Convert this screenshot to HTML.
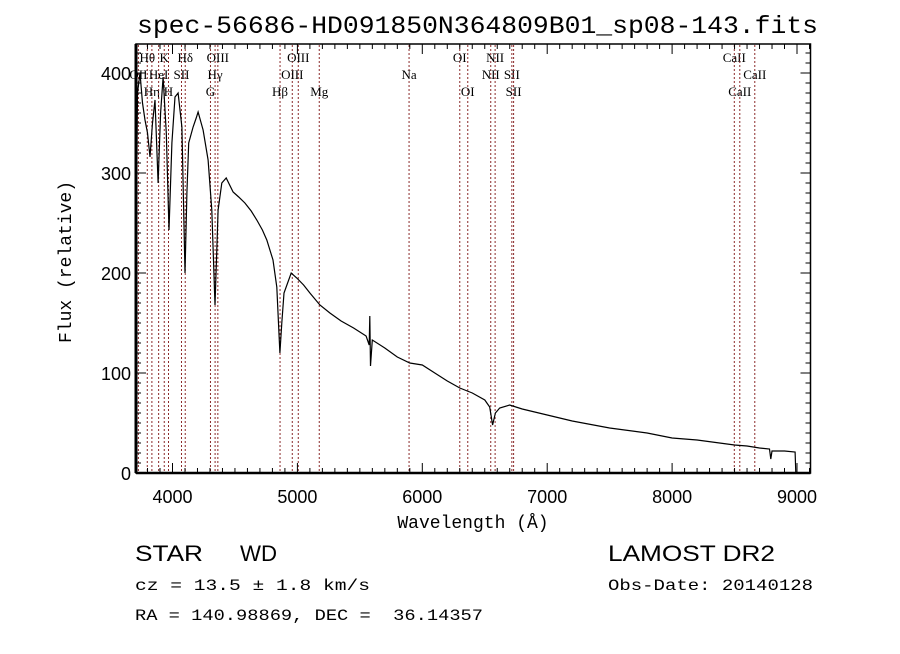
<!DOCTYPE html>
<html><head><meta charset="utf-8"><style>
body{margin:0;background:#fff;width:900px;height:649px;overflow:hidden}
svg text{fill:#000}
</style></head><body>
<svg id="chart" width="900" height="649" xmlns="http://www.w3.org/2000/svg">
<rect width="900" height="649" fill="#fff"/>
<text x="137" y="33" font-family="Liberation Mono, monospace" font-size="25" textLength="681" lengthAdjust="spacingAndGlyphs">spec-56686-HD091850N364809B01_sp08-143.fits</text>
<g id="lines"></g>
<g id="ticks"></g>
<path id="spec" fill="none" stroke="#000" stroke-width="1.2"/>
<rect x="136" y="44" width="674.5" height="429" fill="none" stroke="#000" stroke-width="1.5"/>
<line x1="136" y1="44" x2="136" y2="473" stroke="#000" stroke-width="3"/>
<line x1="136" y1="473" x2="810.5" y2="473" stroke="#000" stroke-width="2.5"/>
<g id="labels" font-family="Liberation Sans, sans-serif" font-size="18"></g>
<text x="473" y="528" font-family="Liberation Mono, monospace" font-size="18" text-anchor="middle">Wavelength (Å)</text>
<text transform="translate(71,262) rotate(-90)" font-family="Liberation Mono, monospace" font-size="18" text-anchor="middle">Flux (relative)</text>
<text x="135" y="561" font-family="Liberation Sans, sans-serif" font-size="22" textLength="68" lengthAdjust="spacingAndGlyphs">STAR</text>
<text x="240" y="561" font-family="Liberation Sans, sans-serif" font-size="22" textLength="37" lengthAdjust="spacingAndGlyphs">WD</text>
<text x="135" y="590" font-family="Liberation Mono, monospace" font-size="16" textLength="235" lengthAdjust="spacingAndGlyphs">cz = 13.5 ± 1.8 km/s</text>
<text x="135" y="620" font-family="Liberation Mono, monospace" font-size="16" xml:space="preserve" textLength="348" lengthAdjust="spacingAndGlyphs">RA = 140.98869, DEC =  36.14357</text>
<text x="608" y="561" font-family="Liberation Sans, sans-serif" font-size="22" textLength="167" lengthAdjust="spacingAndGlyphs">LAMOST DR2</text>
<text x="608" y="590" font-family="Liberation Mono, monospace" font-size="16" textLength="205" lengthAdjust="spacingAndGlyphs">Obs-Date: 20140128</text>
</svg>
<script>
const wavelengths=[3712,3714,3720,3740,3760,3780,3800,3820,3840,3860,3885,3905,3925,3950,3972,3995,4020,4045,4075,4100,4115,4130,4165,4190,4205,4225,4245,4285,4315,4340,4365,4395,4430,4485,4530,4580,4630,4675,4720,4755,4805,4835,4860,4875,4893,4950,4995,5050,5100,5180,5260,5350,5450,5550,5575,5580,5585,5600,5700,5800,5900,6000,6100,6200,6300,6400,6500,6540,6563,6585,6620,6700,6800,7000,7200,7500,7800,8000,8200,8500,8600,8700,8780,8790,8800,8900,8985,8990];
const fluxes=[0,300,380,400,370,353,340,316,350,373,290,360,396,340,243,330,376,380,346,200,280,330,346,355,361,352,343,313,263,168,263,290,295,281,276,270,262,253,243,233,213,186,120,150,180,200,195,188,180,168,160,152,145,137,128,157,107,133,125,116,110,108,100,92,85,80,73,66,48,60,65,68,64,58,52,45,40,35,33,28,27,25,24,14,22,22,21,0];
const xTicks=[4000,5000,6000,7000,8000,9000];
const yTicks=[0,100,200,300,400];
const lineWaves=[3727,3798,3835,3889,3934,3968,4072,4102,4304,4341,4363,4861,4959,5007,5175,5894,6300,6364,6548,6583,6717,6731,8498,8542,8662];
const lineNames=["OII","Hθ","Hη","HeI","K","H","SII","Hδ","G","Hγ","OIII","Hβ","OIII","OIII","Mg","Na","OI","OI","NII","NII","SII","SII","CaII","CaII","CaII"];
const lineRows=[1,0,2,1,0,2,1,0,2,1,0,2,1,0,2,1,0,2,1,0,1,2,0,2,1];
const NS="http://www.w3.org/2000/svg";
function xs(w){return 172.5+(w-4000)*0.1249;}
function ys(f){return 473-f;}
let d="";
wavelengths.forEach((w,i)=>{d+=(i?"L":"M")+xs(w).toFixed(1)+","+ys(fluxes[i]).toFixed(1);});
document.getElementById('spec').setAttribute('d',d);
const lg=document.getElementById('lines');
lineWaves.forEach((w,i)=>{
 const l=document.createElementNS(NS,'line');
 
 
 l.setAttribute('x1',xs(w));l.setAttribute('x2',xs(w));l.setAttribute('y1',45);l.setAttribute('y2',472);
 l.setAttribute('stroke','#8b2a2a');l.setAttribute('stroke-dasharray','2,2');l.setAttribute('stroke-width','1');
 lg.appendChild(l);
 const t=document.createElementNS(NS,'text');
 
 
 t.setAttribute('x',xs(w));t.setAttribute('y',62+lineRows[i]*17);
 t.setAttribute('text-anchor','middle');t.setAttribute('font-family','Liberation Serif, serif');t.setAttribute('font-size','13');
 t.textContent=lineNames[i];lg.appendChild(t);
});
const tg=document.getElementById('ticks');
function tick(x1,y1,x2,y2){const l=document.createElementNS(NS,'line');
 
 
 l.setAttribute('x1',x1);l.setAttribute('y1',y1);l.setAttribute('x2',x2);l.setAttribute('y2',y2);l.setAttribute('stroke','#000');tg.appendChild(l);}
for(let w=3800;w<=9100;w+=100){const x=xs(w);const L=(w%1000===0)?10:5;tick(x,473,x,473-L);tick(x,44,x,44+L);}
for(let f=10;f<=420;f+=10){const y=ys(f);const L=(f%100===0)?10:5;tick(136,y,136+L,y);tick(810.5,y,810.5-L,y);}
const lb=document.getElementById('labels');
xTicks.forEach(v=>{const t=document.createElementNS(NS,'text');
 
 
 t.setAttribute('x',xs(v));t.setAttribute('y',503);t.setAttribute('text-anchor','middle');t.textContent=v;lb.appendChild(t);});
yTicks.forEach(v=>{const t=document.createElementNS(NS,'text');
 
 
 t.setAttribute('x',131);t.setAttribute('y',ys(v)+7);t.setAttribute('text-anchor','end');t.textContent=v;lb.appendChild(t);});
</script>
</body></html>
